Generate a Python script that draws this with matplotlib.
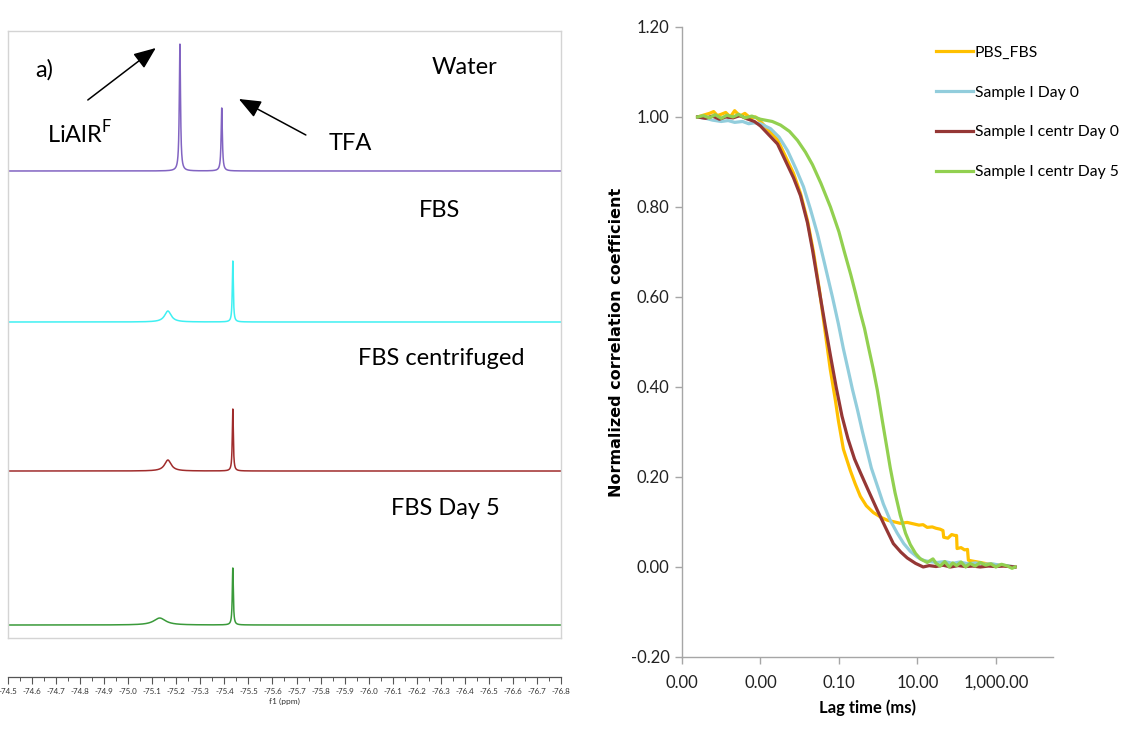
import numpy as np
import matplotlib
matplotlib.use("Agg")
import matplotlib.pyplot as plt
from matplotlib.ticker import FixedLocator, MultipleLocator, FormatStrFormatter

plt.rcParams['font.family'] = ['Lato', 'DejaVu Sans']
plt.rcParams['mathtext.fontset'] = 'custom'
plt.rcParams['mathtext.rm'] = 'Lato'

# ---- 19F NMR spectra (peak position ppm, height, fwhm ppm) ----
spectrum_names = ["Water", "FBS", "FBS centrifuged", "FBS Day 5"]
spectrum_colors = ["#8264c2", "#3ff0f2", "#a02c2c", "#3a9a3a"]
spectrum_offsets = [467, 316, 167, 13]
peak_ppm = [[-75.215, -75.389], [-75.165, -75.435], [-75.165, -75.435], [-75.131, -75.435]]
peak_height = [[127, 63], [11, 61], [11, 62], [7, 57]]
peak_fwhm = [[0.006, 0.006], [0.033, 0.005], [0.033, 0.005], [0.06, 0.005]]
ppm_min, ppm_max = -74.5, -76.8

# ---- correlation curves (lag time in ms, normalized coefficient) ----
series_names = ["PBS_FBS", "Sample I Day 0", "Sample I centr Day 0", "Sample I centr Day 5"]
series_colors = ["#ffc000", "#92cddc", "#953735", "#92d050"]

pbs_lag = [2.5e-5, 3.5e-5, 5e-5, 6.4e-5, 8e-5, 1.0e-4, 1.3e-4, 1.7e-4, 2.2e-4, 3e-4, 4e-4, 5.5e-4,
           7.5e-4, 1.0e-3, 2.72e-3, 6.95e-3, 0.0105, 0.0158, 0.0225, 0.0319, 0.045, 0.06, 0.0815,
           0.0971, 0.13, 0.196, 0.26, 0.352, 0.5, 0.755, 1.2, 1.71, 3.67, 5.5, 7.8, 11, 14, 17.8,
           24, 30, 38, 45, 47, 60, 75, 91, 100, 103, 130, 160, 190, 200, 260, 398, 600, 800, 1290,
           2000, 3090]
pbs_val = [1.0, 1.004, 1.008, 1.012, 1.003, 1.006, 1.01, 1.0, 1.014, 1.002, 1.008, 0.998,
           1.0, 0.99, 0.95, 0.875, 0.83, 0.77, 0.70, 0.615, 0.52, 0.44, 0.37,
           0.325, 0.262, 0.214, 0.185, 0.157, 0.136, 0.121, 0.11, 0.104, 0.097, 0.099, 0.096, 0.093,
           0.094, 0.088, 0.089, 0.086, 0.084, 0.081, 0.066, 0.064, 0.072, 0.070, 0.070, 0.041, 0.043,
           0.038, 0.039, 0.015, 0.013, 0.010, 0.007, 0.006, 0.004, 0.002, 0.0]

day0_lag = [2.5e-5, 4e-5, 6e-5, 1e-4, 1.5e-4, 2.2e-4, 3.5e-4, 5e-4, 7e-4, 1.0e-3, 1.81e-3, 3e-3,
            4.92e-3, 8e-3, 0.0125, 0.0188, 0.0284, 0.0403, 0.055, 0.0684, 0.0971, 0.13, 0.175,
            0.221, 0.296, 0.4, 0.501, 0.671, 1.0, 1.36, 2.0, 3.08, 4.5, 6.59, 10, 14.1, 20, 32, 50,
            80, 120, 200, 300, 500, 800, 1300, 2000, 3090]
day0_val = [1.0, 0.997, 0.993, 0.99, 0.992, 0.988, 0.99, 0.985, 0.987, 0.985, 0.974, 0.955,
            0.925, 0.885, 0.845, 0.795, 0.74, 0.685, 0.635, 0.60, 0.54, 0.485, 0.435,
            0.395, 0.35, 0.30, 0.265, 0.22, 0.175, 0.14, 0.105, 0.075, 0.052, 0.035, 0.022, 0.015,
            0.012, 0.01, 0.012, 0.008, 0.011, 0.007, 0.009, 0.006, 0.007, 0.004, 0.003, 0.0]

centr0_lag = [2.5e-5, 4e-5, 6e-5, 9e-5, 1.3e-4, 2e-4, 3e-4, 4.5e-4, 7e-4, 1.0e-3, 2.72e-3,
              6.95e-3, 0.0105, 0.0158, 0.0212, 0.0319, 0.045, 0.0608, 0.085, 0.12, 0.17, 0.25,
              0.352, 0.55, 0.955, 1.5, 2.44, 3.8, 5.53, 9, 14.1, 20, 30, 45, 70, 110, 170, 260,
              400, 650, 1000, 1600, 3090]
centr0_val = [1.0, 0.997, 1.002, 0.995, 1.0, 0.998, 1.003, 0.996, 0.99, 0.98, 0.94,
              0.865, 0.825, 0.765, 0.705, 0.612, 0.535, 0.47, 0.40, 0.335, 0.285, 0.24,
              0.21, 0.172, 0.126, 0.09, 0.052, 0.033, 0.02, 0.008, 0.0, 0.003, 0.001, 0.004, 0.0,
              0.003, 0.001, 0.002, 0.0, 0.002, 0.001, 0.002, 0.0]

centr5_lag = [2.5e-5, 3.5e-5, 5e-5, 7e-5, 1e-4, 1.4e-4, 2e-4, 2.8e-4, 4e-4, 6e-4, 1.0e-3,
              2e-3, 3.25e-3, 5.5e-3, 8.79e-3, 0.014, 0.0212, 0.035, 0.0608, 0.1, 0.138, 0.2,
              0.263, 0.352, 0.45, 0.563, 0.75, 0.955, 1.28, 1.71, 2.04, 2.7, 3.67, 5, 6.59, 9,
              11.9, 17.9, 22, 25, 30, 38, 50, 65, 80, 100, 130, 170, 220, 300, 400, 550, 750, 1000,
              1400, 2000, 2600, 3090]
centr5_val = [1.0, 1.003, 0.998, 1.005, 0.997, 1.004, 1.0, 1.006, 0.998, 1.002, 0.995,
              0.99, 0.982, 0.968, 0.948, 0.922, 0.894, 0.852, 0.80, 0.745, 0.70, 0.65,
              0.61, 0.565, 0.53, 0.49, 0.44, 0.393, 0.325, 0.26, 0.22, 0.165, 0.115, 0.075, 0.05,
              0.03, 0.018, 0.01, 0.015, 0.018, 0.008, 0.002, 0.012, 0.0, 0.009, 0.003, 0.011, 0.0,
              0.008, 0.002, 0.01, 0.004, 0.007, 0.0, 0.006, 0.002, -0.003, 0.0]

lag_ticks = [1e-5, 1e-3, 1e-1, 1e1, 1e3]
lag_tick_labels = ["0.00", "0.00", "0.10", "10.00", "1,000.00"]

fig = plt.figure(figsize=(11.21, 7.29), dpi=100)

# ---------------- left: stacked spectra ----------------
ax_nmr = fig.add_axes([0.00714, 0.1248, 0.4933, 0.8327])
ppm = np.linspace(ppm_min, ppm_max, 8000)
for name, color, off, pos, hts, wds in zip(spectrum_names, spectrum_colors, spectrum_offsets,
                                           peak_ppm, peak_height, peak_fwhm):
    trace = np.zeros_like(ppm)
    for p, h, w in zip(pos, hts, wds):
        hw = w / 2
        trace += h * hw**2 / ((ppm - p)**2 + hw**2)
    ax_nmr.plot(ppm, trace + off, color=color, lw=1.1)
ax_nmr.set_xlim(ppm_min, ppm_max)
ax_nmr.set_ylim(0, 607)
ax_nmr.set_xticks([])
ax_nmr.set_yticks([])
for s in ax_nmr.spines.values():
    s.set_color("#d4d4d4")
    s.set_linewidth(1.0)


def px(x, y):
    # panel pixel position -> (ppm, intensity) coords
    return ppm_min - (x - 8.2) / 240.4, 638 - y


txt = dict(fontsize=17, color="black", va="center", ha="left")
ax_nmr.text(*px(35, 70), "a)", **txt)
ax_nmr.text(*px(432, 68), "Water", **txt)
ax_nmr.text(*px(47, 133), r"LiAlR$^{\mathrm{F}}$", **txt)
ax_nmr.text(*px(329, 144), "TFA", **txt)
ax_nmr.text(*px(419, 211), "FBS", **txt)
ax_nmr.text(*px(358, 358), "FBS centrifuged", **txt)
ax_nmr.text(*px(391, 508), "FBS Day 5", **txt)

arrow = dict(arrowstyle="-|>,head_length=1.35,head_width=0.55", color="black", lw=1.1,
             shrinkA=0, shrinkB=0)
ax_nmr.annotate("", xy=px(156, 48), xytext=px(88, 100), arrowprops=arrow)
ax_nmr.annotate("", xy=px(239, 99), xytext=px(306, 135), arrowprops=arrow)

# ppm scale underneath
ax_ppm = fig.add_axes([0.00714, 0.0713, 0.4933, 0.001])
ax_ppm.set_xlim(ppm_min, ppm_max)
ax_ppm.set_yticks([])
for side in ("left", "right", "top"):
    ax_ppm.spines[side].set_visible(False)
ax_ppm.spines["bottom"].set_color("#555555")
ax_ppm.spines["bottom"].set_linewidth(0.9)
ax_ppm.xaxis.set_major_locator(MultipleLocator(0.1))
ax_ppm.xaxis.set_minor_locator(MultipleLocator(0.05))
ax_ppm.xaxis.set_major_formatter(FormatStrFormatter("%.1f"))
ax_ppm.tick_params(axis="x", which="major", length=5, width=0.8, color="#555555",
                   labelsize=5.8, pad=3, labelcolor="#333333")
ax_ppm.tick_params(axis="x", which="minor", length=3, width=0.7, color="#555555")
ax_ppm.set_xlabel("f1 (ppm)", fontsize=6, labelpad=2, color="#333333")

# ---------------- right: correlation curves ----------------
ax = fig.add_axes([0.6084, 0.0988, 0.3312, 0.8642])
for name, color, lag, val in zip(series_names, series_colors,
                                 [pbs_lag, day0_lag, centr0_lag, centr5_lag],
                                 [pbs_val, day0_val, centr0_val, centr5_val]):
    ax.plot(lag, val, color=color, lw=2.3, label=name, solid_joinstyle="round")

ax.set_xscale("log")
ax.set_xlim(1e-5, 10**4.466)
ax.set_ylim(-0.2, 1.2)
ax.xaxis.set_major_locator(FixedLocator(lag_ticks))
ax.xaxis.set_minor_locator(FixedLocator([]))
ax.set_xticklabels(lag_tick_labels)
ax.yaxis.set_major_locator(MultipleLocator(0.2))
ax.yaxis.set_major_formatter(FormatStrFormatter("%.2f"))
for side in ("top", "right"):
    ax.spines[side].set_visible(False)
for side in ("left", "bottom"):
    ax.spines[side].set_color("#a6a6a6")
    ax.spines[side].set_linewidth(1.0)
ax.tick_params(axis="both", length=5, width=1.0, color="#a6a6a6", labelsize=12,
               labelcolor="#222222")
ax.tick_params(axis="y", pad=4)
ax.tick_params(axis="x", pad=8)
ax.set_xlabel("Lag time (ms)", fontsize=12, fontweight="bold", labelpad=6)
ax.set_ylabel("Normalized correlation coefficient", fontsize=11.5, fontweight="bold",
              labelpad=5, family=["DejaVu Sans"])

ax.legend(loc="upper left", bbox_to_anchor=(0.8298, 0.946), bbox_transform=fig.transFigure,
          frameon=False, fontsize=11.3, handlelength=2.3, handletextpad=0.15,
          labelspacing=1.65, borderaxespad=0)

fig.savefig("out.png", dpi=100)
